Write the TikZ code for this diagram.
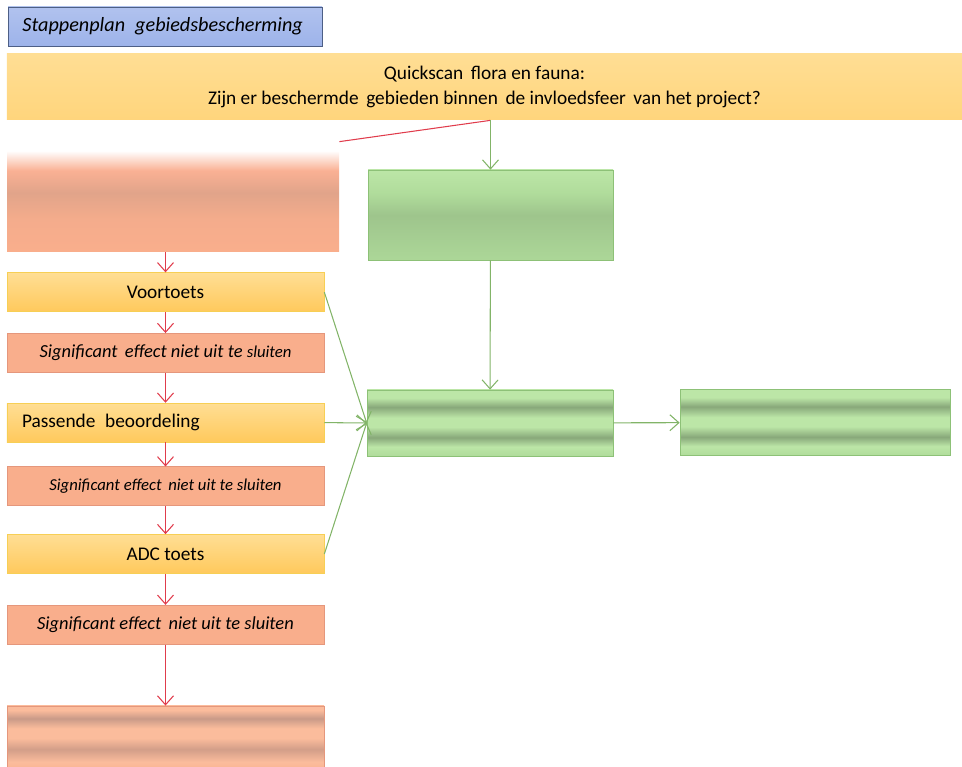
\documentclass[tikz,border=0pt]{standalone}
\usepackage{fontspec}
\setmainfont{Carlito}
\usepackage{tikz}
\usetikzlibrary{arrows.meta, positioning, calc}
\definecolor{titleblue}{HTML}{9DB3EA}
\definecolor{titledark}{HTML}{4D5F86}
\definecolor{qs_yellow}{HTML}{FFD57C}
\definecolor{qs_yellowlight}{HTML}{FFDE94}
\definecolor{qs_yellowdark}{HTML}{FFC95C}
\definecolor{qs_yellowline}{HTML}{F7CF55}
\definecolor{zalm}{HTML}{F9AE8C}
\definecolor{zalmlight}{HTML}{FBBC9C}
\definecolor{zalmdark}{HTML}{C99A88}
\definecolor{zalmline}{HTML}{E5977C}
\definecolor{groen}{HTML}{B0DC9B}
\definecolor{groenlight}{HTML}{BCE6A7}
\definecolor{groendark}{HTML}{88A87A}
\definecolor{groenline}{HTML}{8DC177}
\definecolor{pijlrood}{HTML}{E03C4C}
\definecolor{pijlgroen}{HTML}{82B468}
\pgfdeclareverticalshading{groenband}{100bp}{color(0bp)=(groen); color(25bp)=(groen);
  color(32bp)=(groenlight); color(39bp)=(groendark); color(47bp)=(groenlight);
  color(54bp)=(groenlight); color(62bp)=(groendark); color(69bp)=(groenlight);
  color(75bp)=(groenlight); color(100bp)=(groenlight)}
\pgfdeclareverticalshading{zalmband}{100bp}{color(0bp)=(zalm); color(25bp)=(zalm);
  color(35bp)=(zalmlight); color(44bp)=(zalmdark!80!zalm); color(52bp)=(zalmlight);
  color(59bp)=(zalmlight); color(66bp)=(zalmdark); color(72bp)=(zalmlight);
  color(75bp)=(zalmlight); color(100bp)=(zalmlight)}
\pgfdeclareverticalshading{zalmfade}{100bp}{color(0bp)=(zalm); color(25bp)=(zalm);
  color(40bp)=(zalm!90!zalmdark); color(52bp)=(zalmdark!50!zalm); color(62bp)=(zalm!85!pink);
  color(71bp)=(white); color(75bp)=(white); color(100bp)=(white)}
\pgfdeclareverticalshading{groenvlak}{100bp}{color(0bp)=(groen); color(25bp)=(groen!90!groendark);
  color(50bp)=(groendark!45!groen); color(62bp)=(groen); color(75bp)=(groenlight); color(100bp)=(groenlight)}
\tikzset{
  kop/.style={draw=titledark,thin,top color=titleblue!80!white,bottom color=titleblue,
    minimum width=6.28cm,minimum height=0.78cm,font=\fontsize{11.5}{13}\selectfont\itshape,
    text width=5.7cm,align=left},
  geelbox/.style={draw=qs_yellowline,thin,top color=qs_yellowlight,bottom color=qs_yellowdark,
    minimum width=6.34cm,minimum height=0.78cm,inner sep=0pt,font=\fontsize{11}{13}\selectfont},
  zalmbox/.style={draw=zalmline,thin,fill=zalm,minimum width=6.34cm,minimum height=0.78cm,
    inner sep=0pt,font=\fontsize{10.5}{12}\selectfont\itshape},
  groenbox/.style={draw=groenline,thin,shading=groenband,minimum width=4.92cm,minimum height=1.32cm},
  flowrood/.style={draw=pijlrood,line width=0.6pt,-{Straight Barb[length=1.8mm,width=3.2mm]}},
  flowgroen/.style={draw=pijlgroen,line width=0.6pt,-{Straight Barb[length=1.8mm,width=3.2mm]}},
}

\begin{document}
\begin{tikzpicture}
	\useasboundingbox (0,0) rectangle (19.24,-15.34);
	\node[kop] (title) at (3.30,-0.53) {Stappenplan\, gebiedsbescherming};
	\node[geelbox,draw=none,minimum width=19.1cm,minimum height=1.32cm,align=center,
	  top color=qs_yellowlight,bottom color=qs_yellow] (quick) at (9.69,-1.74)
	  {Quickscan\, flora en fauna:\\[1pt] Zijn er beschermde\, gebieden binnen\, de invloedsfeer\, van het project?};
	% linker kolom
	\node[minimum width=6.64cm,minimum height=2.2cm,shading=zalmfade] (pre) at (3.46,-3.94) {};
	\node[geelbox,below=0.4cm of pre.south west,anchor=north west] (vt) {Voortoets};
	\node[zalmbox,below=0.42cm of vt] (se1) {Significant\, effect niet uit te {\fontsize{9.5}{11}\selectfont sluiten}};
	\node[geelbox,below=0.6cm of se1,text width=5.74cm,align=left,inner xsep=0.3cm] (pb) {Passende\, beoordeling};
	\node[zalmbox,below=0.48cm of pb,font=\fontsize{9.5}{11}\selectfont\itshape] (se2) {Significant effect\, niet uit te sluiten};
	\node[geelbox,below=0.56cm of se2] (adc) {ADC toets};
	\node[zalmbox,below=0.62cm of adc] (se3) {Significant effect\, niet uit te sluiten};
	\node[draw=zalmline,thin,shading=zalmband,minimum width=6.34cm,minimum height=1.4cm,
	  below=1.22cm of se3] (end) {};
	% rechter kolom
	\node[draw=groenline,thin,shading=groenvlak,minimum width=4.9cm,minimum height=1.8cm] (g1) at (9.81,-4.30) {};
	\node[groenbox] (g2) at (9.80,-8.46) {};
	\node[groenbox,minimum width=5.4cm] (g3) at (16.30,-8.45) {};
	% verbindingen
	\draw[pijlrood,line width=0.6pt] (quick.south -| g1.north) -- (pre.north east);
	\draw[flowgroen] (quick.south -| g1.north) -- (g1.north);
	\draw[flowrood] (pre.south -| vt.north) -- (vt.north);
	\draw[flowrood] (vt) -- (se1);
	\draw[flowrood] (se1) -- (pb);
	\draw[flowrood] (pb) -- (se2);
	\draw[flowrood] (se2) -- (adc);
	\draw[flowrood] (adc) -- (se3);
	\draw[flowrood] (se3) -- (end);
	\draw[flowgroen] (g1) -- (g2);
	\draw[flowgroen] (vt.east) -- (g2.west);
	\draw[flowgroen] (pb.east) -- (g2.west);
	\draw[flowgroen] (adc.east) -- (g2.west);
	\draw[flowgroen] (g2) -- (g3);
\end{tikzpicture}
\end{document}
